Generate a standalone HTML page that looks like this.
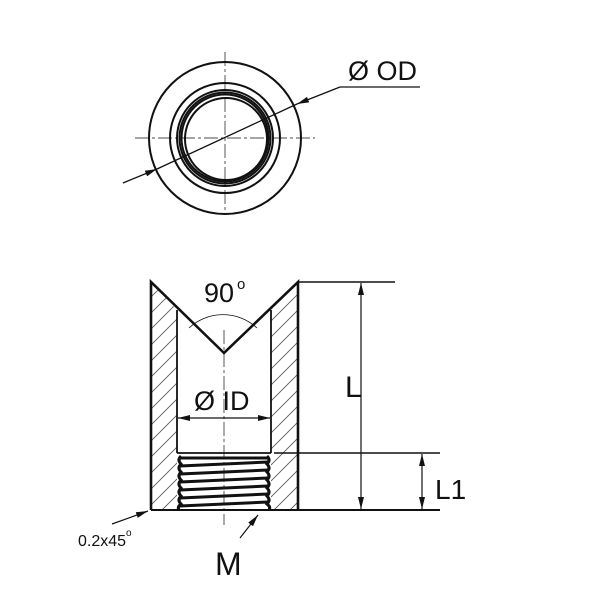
<!DOCTYPE html>
<html><head><style>body{margin:0;background:#fff}svg{display:block}text{font-family:"Liberation Sans",sans-serif;fill:#111}</style></head><body>
<svg width="600" height="600" viewBox="0 0 600 600" xmlns="http://www.w3.org/2000/svg">
<defs>
<marker id="a" viewBox="0 0 12 6" refX="12" refY="3" markerWidth="12" markerHeight="6" orient="auto-start-reverse" markerUnits="userSpaceOnUse"><path d="M0,0L12,3L0,6z" fill="#111"/></marker>
<pattern id="h" width="16" height="16" patternUnits="userSpaceOnUse"><path d="M-4,20L20,-4M-4,4L4,-4M12,20L20,12" stroke="#555" stroke-width="0.8"/></pattern>
</defs>
<g fill="none" stroke="#111">
<g stroke-width="2">
<circle cx="225" cy="138" r="76"/>
<circle cx="225" cy="138" r="55"/>
<circle cx="225" cy="138" r="48"/>
<circle cx="225" cy="138" r="45.5"/>
<circle cx="225" cy="138" r="43.5"/>
<circle cx="226" cy="139" r="41"/>
</g>
<g stroke-width="0.7" stroke-dasharray="14,3,3,3">
<line x1="135" y1="138" x2="315" y2="138"/>
<line x1="225" y1="52" x2="225" y2="215"/>
</g>
<line x1="123" y1="183" x2="157" y2="169" stroke-width="1.3" marker-end="url(#a)"/>
<line x1="157" y1="169" x2="297" y2="104" stroke-width="1.3"/>
<line x1="340" y1="87" x2="297" y2="104" stroke-width="1.3" marker-end="url(#a)"/>
<line x1="340" y1="87" x2="420" y2="87" stroke-width="1.3"/>
<path d="M151,282 L177,310 L177,510 L151,510z" fill="url(#h)" stroke="none"/>
<path d="M298,282 L271,310 L271,510 L298,510z" fill="url(#h)" stroke="none"/>
<path d="M151,510 L151,282 L224,353 L298,282 L298,510" stroke-width="2.6"/>
<line x1="177" y1="310" x2="177" y2="453" stroke-width="1.8"/>
<line x1="271" y1="310" x2="271" y2="453" stroke-width="1.8"/>
<line x1="177" y1="453" x2="271" y2="453" stroke-width="1.8"/>
<line x1="151" y1="510" x2="440" y2="510" stroke-width="2"/>
<line x1="298" y1="282" x2="395" y2="282" stroke-width="1.6"/>
<line x1="274" y1="453" x2="440" y2="453" stroke-width="1.6"/>
<g stroke-width="3">
<path d="M181,456 q-4,4 0,8 q-4,4 0,8 q-4,4 0,8 q-4,4 0,8 q-4,4 0,8 q-4,4 0,8 q-4,3 -2,6"/>
<path d="M267,456 q4,4 0,8 q4,4 0,8 q4,4 0,8 q4,4 0,8 q4,4 0,8 q4,4 0,8 q4,3 2,6"/>
<line x1="180" y1="458" x2="268" y2="458"/>
<line x1="180" y1="466" x2="268" y2="462"/>
<line x1="180" y1="474" x2="268" y2="470"/>
<line x1="180" y1="482" x2="268" y2="478"/>
<line x1="180" y1="490" x2="268" y2="486"/>
<line x1="180" y1="498" x2="268" y2="494"/>
<line x1="180" y1="506" x2="268" y2="502"/>
</g>
<line x1="224" y1="330" x2="224" y2="525" stroke-width="0.7" stroke-dasharray="14,3,3,3"/>
<path d="M189,328 A50,50 0 0 1 257,328" stroke-width="0.8"/>
<line x1="178" y1="418" x2="270" y2="418" stroke-width="1.2" marker-start="url(#a)" marker-end="url(#a)"/>
<line x1="361" y1="283" x2="361" y2="509" stroke-width="1.2" marker-start="url(#a)" marker-end="url(#a)"/>
<line x1="422" y1="454" x2="422" y2="509" stroke-width="1.2" marker-start="url(#a)" marker-end="url(#a)"/>
<line x1="112" y1="524" x2="148" y2="511" stroke-width="1.2" marker-end="url(#a)"/>
<line x1="240" y1="538" x2="258" y2="515" stroke-width="1.2" marker-end="url(#a)"/>
</g>
<text x="348" y="80" font-size="27">Ø OD</text>
<text x="204" y="302" font-size="27">90</text><text x="237" y="289" font-size="15">o</text>
<text x="194" y="410" font-size="27">Ø ID</text>
<text x="345" y="397" font-size="30">L</text>
<text x="435" y="499" font-size="28">L1</text>
<text x="215" y="575" font-size="32">M</text>
<text x="78" y="546" font-size="16">0.2x45</text><text x="126" y="536" font-size="10">o</text>
</svg>
</body></html>
